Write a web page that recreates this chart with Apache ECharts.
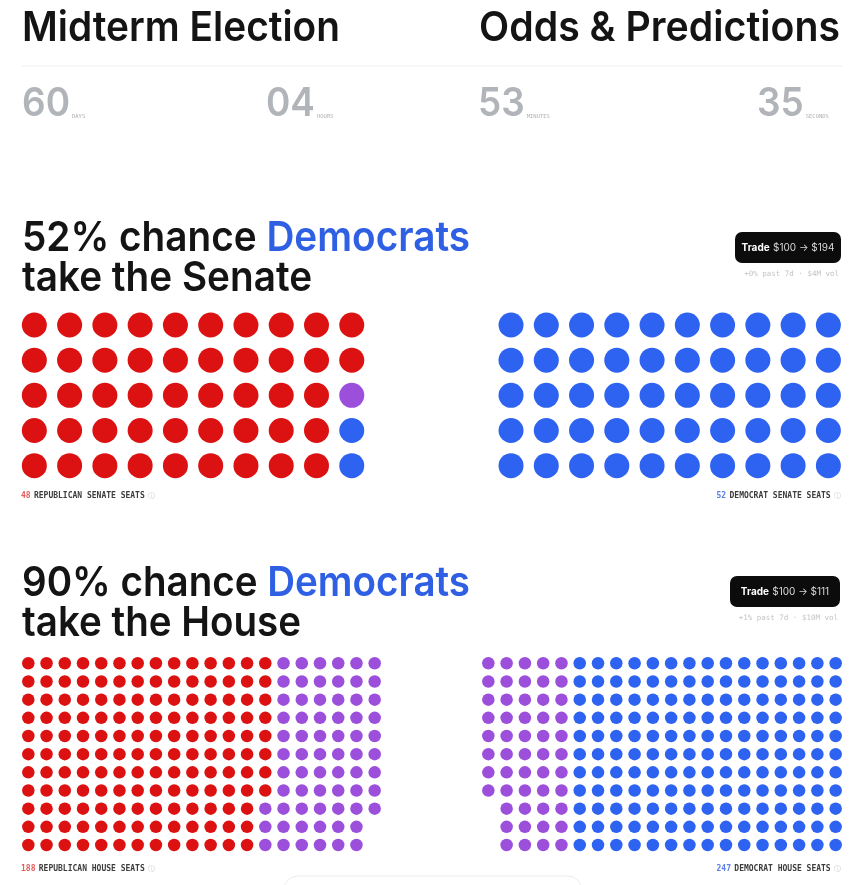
<!DOCTYPE html>
<html>
<head>
<meta charset="utf-8">
<script src="https://cdn.jsdelivr.net/npm/echarts@6/dist/echarts.min.js"></script>
<style>
  html, body { margin: 0; padding: 0; background: #ffffff; }
  #chart { width: 861px; height: 885px; }
</style>
</head>
<body>
<div id="chart"></div>
<script>
// ---------------- DATA ----------------
const seatGroups = ['Republican', 'Toss-up', 'Democrat'];
const groupColors = ['#dc1212', '#9b4fda', '#2e62f0'];

const countdownValues = ['60', '04', '53', '35'];
const countdownUnits = ['DAYS', 'HOURS', 'MINUTES', 'SECONDS'];

// Senate waffle (10 x 5 each side); counts per group [Rep, Toss-up, Dem]
const senateLeftCounts = [47, 1, 2];
const senateRightCounts = [0, 0, 50];
// House waffle (20 x 11 each side)
const houseLeftCounts = [151, 67, 0];
const houseRightCounts = [0, 52, 165];

const senateChance = ['52%', 'Democrats', 'take the Senate'];
const houseChance = ['90%', 'Democrats', 'take the House'];
const senateTrade = ['$100', '$194', '+0% past 7d · $4M vol'];
const houseTrade = ['$100', '$111', '+1% past 7d · $10M vol'];
const senateSeatLabels = ['48', 'REPUBLICAN SENATE SEATS', '52', 'DEMOCRAT SENATE SEATS'];
const houseSeatLabels = ['188', 'REPUBLICAN HOUSE SEATS', '247', 'DEMOCRAT HOUSE SEATS'];

// ---------------- BUILD ----------------
// Column-major fill (top to bottom); right-side grids fill from the right edge, Democrats first.
function waffle(counts, cols, rows, fromRight) {
  const order = fromRight ? [2, 1, 0] : [0, 1, 2];
  const out = [[], [], []];
  let idx = 0;
  order.forEach(g => {
    for (let k = 0; k < counts[g]; k++) {
      const c = Math.floor(idx / rows), r = idx % rows;
      out[g].push([fromRight ? cols - 1 - c : c, r]);
      idx++;
    }
  });
  return out;
}

const panels = [
  { counts: senateLeftCounts, cols: 10, rows: 5, right: false, size: 25, grid: { left: 16.7, top: 307.4, width: 352.7, height: 175.9 } },
  { counts: senateRightCounts, cols: 10, rows: 5, right: true, size: 25, grid: { left: 493.4, top: 307.4, width: 352.6, height: 175.9 } },
  { counts: houseLeftCounts, cols: 20, rows: 11, right: false, size: 12.5, grid: { left: 19.2, top: 654.2, width: 364.6, height: 199.9 } },
  { counts: houseRightCounts, cols: 20, rows: 11, right: true, size: 12.5, grid: { left: 479.2, top: 654.2, width: 365.6, height: 199.9 } }
];

const grids = [], xAxes = [], yAxes = [], series = [];
panels.forEach((p, i) => {
  grids.push(Object.assign({ containLabel: false }, p.grid));
  xAxes.push({ type: 'value', gridIndex: i, min: -0.5, max: p.cols - 0.5, show: false });
  yAxes.push({ type: 'value', gridIndex: i, min: -0.5, max: p.rows - 0.5, inverse: true, show: false });
  const pts = waffle(p.counts, p.cols, p.rows, p.right);
  pts.forEach((d, g) => {
    if (!d.length) return;
    series.push({
      type: 'scatter', name: seatGroups[g], xAxisIndex: i, yAxisIndex: i,
      data: d, symbol: 'circle', symbolSize: p.size,
      itemStyle: { color: groupColors[g], opacity: 1 },
      silent: true, animation: false
    });
  });
});

const HEAD = 'Inter, "Noto Sans", sans-serif';
const MONO = '"DejaVu Sans Mono", "Liberation Mono", monospace';

// horizontal squeeze so headline text spans the width it has in the reference
const measureCtx = document.createElement('canvas').getContext('2d');
function fit(font, text, target) {
  measureCtx.font = font;
  const w = measureCtx.measureText(text).width;
  return w > 0 ? Math.min(1, target / w) : 1;
}

const graphics = [];
function txt(x, y, text, opts, scaleX) {
  graphics.push({
    type: 'text', x: x, y: y, silent: true, scaleX: scaleX || 1,
    style: Object.assign({ text: text, fill: '#111', font: '500 40px ' + HEAD, align: 'left', verticalAlign: 'middle' }, opts || {})
  });
}

// Header
const headFont = '600 41px ' + HEAD;
txt(22, 29, 'Midterm Election', { font: headFont, fill: '#141414' }, fit(headFont, 'Midterm Election', 318));
txt(840, 29, 'Odds & Predictions', { font: headFont, fill: '#141414', align: 'right' }, fit(headFont, 'Odds & Predictions', 361));
graphics.push({ type: 'line', silent: true, shape: { x1: 22, y1: 66, x2: 842, y2: 66 }, style: { stroke: '#eeeeee', lineWidth: 1 } });

// Countdown
const cdX = [22, 266, 478, 757];
const cdFont = '600 40px ' + HEAD;
const cdScale = fit(cdFont, '60', 48);
countdownValues.forEach((v, i) => {
  graphics.push({
    type: 'text', x: cdX[i], y: 104, silent: true, scaleX: cdScale,
    style: { text: v, font: cdFont, fill: '#b1b4b9', verticalAlign: 'middle' }
  });
  measureCtx.font = cdFont;
  const w = measureCtx.measureText(v).width * cdScale;
  txt(cdX[i] + w + 2, 117, countdownUnits[i], { font: '5.5px ' + MONO, fill: '#b0b0b0' });
});

// Chance headlines
function chance(y, arr) {
  const line1 = arr[0] + ' chance ' + arr[1];
  graphics.push({
    type: 'text', x: 22, y: y, silent: true, scaleX: fit(headFont, line1, 448),
    style: {
      text: '{k|' + arr[0] + ' chance }{d|' + arr[1] + '}\n{k|' + arr[2] + '}',
      verticalAlign: 'top',
      rich: {
        k: { font: headFont, fill: '#141414', lineHeight: 40 },
        d: { font: headFont, fill: '#2f60e4', lineHeight: 40 }
      }
    }
  });
}
chance(219, senateChance);
chance(564, houseChance);

// Trade buttons
function trade(x, y, w, h, arr) {
  graphics.push({ type: 'rect', silent: true, shape: { x: x, y: y, width: w, height: h, r: 7 }, style: { fill: '#0c0c0c' } });
  graphics.push({
    type: 'text', x: x + w / 2, y: y + h / 2, silent: true,
    style: {
      text: '{b|Trade} {n|' + arr[0] + ' → ' + arr[1] + '}',
      align: 'center', verticalAlign: 'middle',
      rich: {
        b: { font: '700 10px ' + HEAD, fill: '#ffffff' },
        n: { font: '400 10px ' + HEAD, fill: '#d8d8d8' }
      }
    }
  });
  txt(x + w - 2, y + h + 11, arr[2], { font: '7.5px ' + MONO, fill: '#c4c4c4', align: 'right' });
}
trade(735, 232, 106, 31, senateTrade);
trade(730, 576, 110, 31, houseTrade);

// Seat labels
function seatLabel(x, y, num, label, numColor, align) {
  graphics.push({
    type: 'text', x: x, y: y, silent: true,
    style: {
      text: '{n|' + num + '} {t|' + label + '} {i|ⓘ}',
      align: align, verticalAlign: 'middle',
      rich: {
        n: { font: '700 8px ' + MONO, fill: numColor },
        t: { font: '700 8px ' + MONO, fill: '#3c3c3c' },
        i: { font: '7px "DejaVu Sans", sans-serif', fill: '#c8c8c8' }
      }
    }
  });
}
seatLabel(21, 496, senateSeatLabels[0], senateSeatLabels[1], '#e25a5a', 'left');
seatLabel(841, 496, senateSeatLabels[2], senateSeatLabels[3], '#5b80e6', 'right');
seatLabel(21, 869, houseSeatLabels[0], houseSeatLabels[1], '#e25a5a', 'left');
seatLabel(841, 869, houseSeatLabels[2], houseSeatLabels[3], '#5b80e6', 'right');

// Faint bottom sheet edge
graphics.push({ type: 'rect', silent: true, shape: { x: 284, y: 876, width: 298, height: 40, r: 14 }, style: { fill: 'none', stroke: '#ececec', lineWidth: 1 } });

const chart = echarts.init(document.getElementById('chart'), null, { renderer: 'canvas' });
chart.setOption({
  backgroundColor: '#ffffff',
  animation: false,
  grid: grids,
  xAxis: xAxes,
  yAxis: yAxes,
  series: series,
  graphic: { elements: graphics }
});
</script>
</body>
</html>
